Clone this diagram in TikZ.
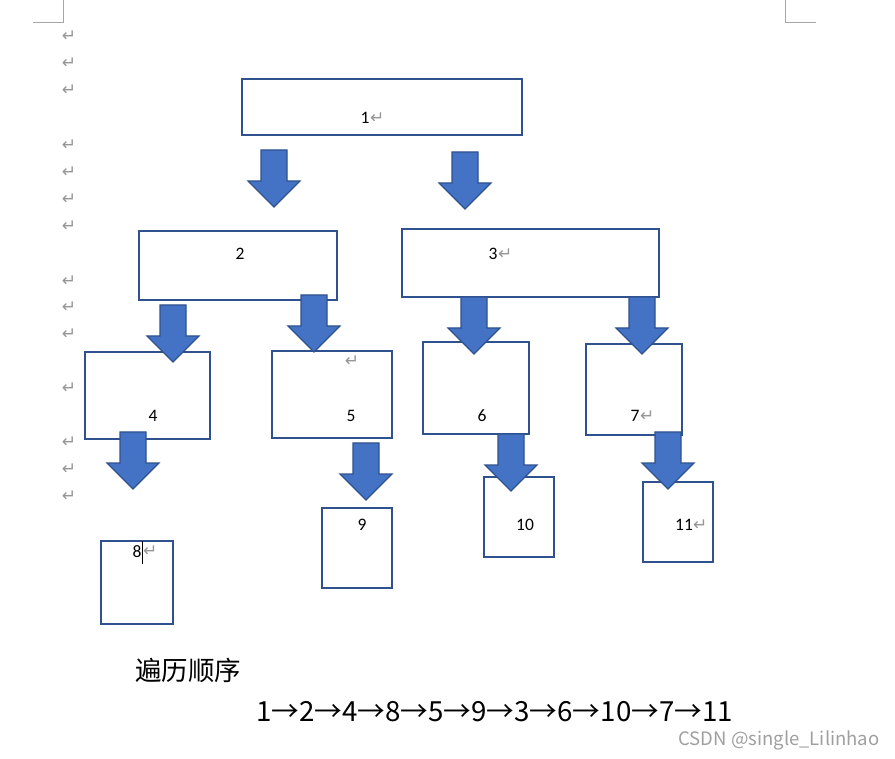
\documentclass[tikz,border=0pt]{standalone}
\usepackage{fontspec}
\setmainfont{Carlito}
\newfontfamily\cjk{Noto Sans CJK SC}
\newfontfamily\symf{DejaVu Sans}
\definecolor{boxline}{HTML}{2F528F}
\definecolor{arrfill}{HTML}{4472C4}
\definecolor{markgray}{RGB}{150,150,150}
\begin{document}
\begin{tikzpicture}[x=1pt,y=-1pt,
  box/.style={draw=boxline,line width=1.8pt,fill=white,anchor=north west,inner sep=0pt,outer sep=0pt},
  lbl/.style={font=\fontsize{17.5}{17.5}\selectfont,inner sep=0pt},
  ret/.style={font=\symf\fontsize{17}{17}\selectfont,text=markgray,inner sep=0pt},
  corner/.style={draw=gray!70,line width=1pt},
  blockarrow/.style={draw=boxline,line width=1.2pt,fill=arrfill,line join=miter},
  darrow/.pic={\path[blockarrow] (-13,0) -- (-13,31) -- (-26,31) -- (0,57) -- (26,31) -- (13,31) -- (13,0) -- cycle;}
]
\useasboundingbox (0,0) rectangle (895,759);
% page corner marks
\coordinate (tl0) at (63,0); \coordinate (tl1) at (63,23); \coordinate (tl2) at (33,23);
\coordinate (tr0) at (785,0); \coordinate (tr1) at (785,23); \coordinate (tr2) at (816,23);
\draw[corner] (tl0) -- (tl1) -- (tl2);
\draw[corner] (tr0) -- (tr1) -- (tr2);
% margin paragraph marks
\foreach \yy [count=\i] in {36,63,90,145,172,199,226,281,307,334,388,442,469,496}
  \node[ret] (m\i) at (69,\yy) {↵};
% boxes
\node[box,minimum width=280pt,minimum height=56pt] (b1) at (242,79) {};
\node[box,minimum width=198pt,minimum height=69pt] (b2) at (139,231) {};
\node[box,minimum width=257pt,minimum height=68pt] (b3) at (402,229) {};
\node[box,minimum width=125pt,minimum height=87pt] (b4) at (85,352) {};
\node[box,minimum width=120pt,minimum height=87pt] (b5) at (272,351) {};
\node[box,minimum width=106pt,minimum height=92pt] (b6) at (423,342) {};
\node[box,minimum width=96pt,minimum height=91pt] (b7) at (586,344) {};
\node[box,minimum width=72pt,minimum height=83pt] (b8) at (101,541) {};
\node[box,minimum width=70pt,minimum height=80pt] (b9) at (322,508) {};
\node[box,minimum width=70pt,minimum height=80pt] (b10) at (484,477) {};
\node[box,minimum width=70pt,minimum height=80pt] (b11) at (643,482) {};
% block arrows
\pic at (274,150) {darrow};
\pic at (465,152) {darrow};
\pic at (173,305) {darrow};
\pic at (314,295) {darrow};
\pic at (474,297) {darrow};
\pic at (642,297) {darrow};
\pic at (133,432) {darrow};
\pic at (366,443) {darrow};
\pic at (511,434) {darrow};
\pic at (668,432) {darrow};
% labels
\node[lbl] (l1) at (365,118) {1};
\node[ret,anchor=west] (r1) at (370,118) {↵};
\node[lbl] (l2) at (240,254) {2};
\node[lbl] (l3) at (493,254) {3};
\node[ret,anchor=west] (r3) at (498,254) {↵};
\node[lbl] (l4) at (153,416) {4};
\node[lbl] (l5) at (351,416) {5};
\node[ret] (r5) at (352,361) {↵};
\node[lbl] (l6) at (482,416) {6};
\node[lbl] (l7) at (635,416) {7};
\node[ret,anchor=west] (r7) at (640,416) {↵};
\node[lbl] (l8) at (137,552) {8};
\node[ret,anchor=west] (r8) at (143,551) {↵};
\coordinate (cur0) at (142.5,541); \coordinate (cur1) at (142.5,564);
\draw[black,line width=0.8pt] (cur0) -- (cur1);
\node[lbl] (l9) at (362,525) {9};
\node[lbl] (l10) at (525,525) {10};
\node[lbl] (l11) at (684,525) {11};
\node[ret,anchor=west] (r11) at (693,525) {↵};
% bottom text
\node[font=\cjk\fontsize{26.5}{26.5}\selectfont,inner sep=0pt] (title) at (188,670) {遍历顺序};
\node[font=\cjk\fontsize{27.7}{27.7}\selectfont,inner sep=0pt] (seq) at (494.5,712) {1→2→4→8→5→9→3→6→10→7→11};
\node[font=\cjk\fontsize{18.5}{18.5}\selectfont,text=gray!75,inner sep=0pt] (wm) at (779,740) {CSDN @single\_Lilinhao};
\end{tikzpicture}
\end{document}
